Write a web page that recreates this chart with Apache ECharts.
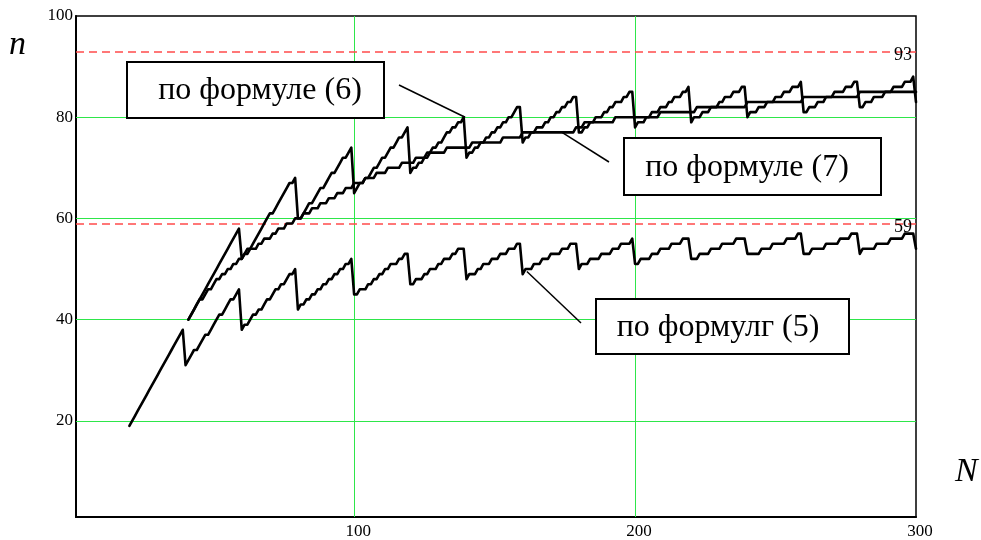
<!DOCTYPE html>
<html>
<head>
<meta charset="utf-8">
<script src="https://cdn.jsdelivr.net/npm/echarts@6/dist/echarts.min.js"></script>
<style>
  html, body { margin: 0; padding: 0; background: #fff; }
  #chart { width: 981px; height: 540px; }
</style>
</head>
<body>
<div id="chart"></div>
<script>
// n as a function of N for the three formulas (one value per integer N)
const startN5 = 20;
const n5 = [
  19,20,21,22,23,24,25,26,27,28,29,30,31,32,33,34,35,36,37,38,
  31,32,33,34,34,35,36,37,37,38,39,40,41,41,42,43,44,44,45,46,
  38,39,39,40,41,41,42,42,43,44,44,45,46,46,47,47,48,49,49,50,
  42,43,43,44,44,45,45,46,46,47,47,48,48,49,49,50,50,51,51,52,
  45,45,46,46,46,47,47,48,48,49,49,50,50,51,51,51,52,52,53,53,
  47,47,48,48,48,49,49,50,50,50,51,51,52,52,52,53,53,54,54,54,
  48,49,49,49,50,50,51,51,51,52,52,52,53,53,53,54,54,54,55,55,
  49,50,50,50,51,51,51,52,52,52,53,53,53,53,54,54,54,55,55,55,
  50,51,51,51,52,52,52,52,53,53,53,53,54,54,54,55,55,55,55,56,
  51,51,52,52,52,52,53,53,53,54,54,54,54,55,55,55,55,56,56,56,
  52,52,52,53,53,53,53,54,54,54,54,55,55,55,55,55,56,56,56,56,
  53,53,53,53,53,54,54,54,54,55,55,55,55,55,56,56,56,56,57,57,
  53,53,53,54,54,54,54,54,55,55,55,55,55,56,56,56,56,57,57,57,
  53,54,54,54,54,54,55,55,55,55,55,56,56,56,56,56,57,57,57,57,
  54
];

const startN6 = 41;
const n6 = [
  40,41,42,43,44,45,46,47,48,49,50,51,52,53,54,55,56,57,58,
  52,53,54,54,55,56,57,58,59,60,61,61,62,63,64,65,66,67,67,68,
  60,60,61,62,63,63,64,65,66,66,67,68,69,69,70,71,72,72,73,74,
  65,66,67,67,68,68,69,70,70,71,72,72,73,74,74,75,76,76,77,78,
  69,70,70,71,71,72,73,73,74,74,75,75,76,77,77,78,78,79,79,80,
  72,73,73,74,74,75,75,76,76,77,77,78,78,79,79,80,80,81,82,82,
  75,76,76,77,77,78,78,78,79,79,80,80,81,81,82,82,83,83,84,84,
  77,77,78,78,79,79,80,80,80,81,81,82,82,83,83,83,84,84,85,85,
  78,79,79,79,80,80,81,81,81,82,82,82,83,83,84,84,84,85,85,86,
  79,80,80,80,81,81,81,82,82,82,83,83,84,84,84,85,85,85,86,86,
  80,81,81,81,82,82,82,83,83,83,84,84,84,85,85,85,86,86,86,87,
  81,81,82,82,82,83,83,83,84,84,84,85,85,85,85,86,86,86,87,87,
  82,82,83,83,83,84,84,84,84,85,85,85,86,86,86,86,87,87,87,88,
  83
];

const startN7 = 41;
const n7 = [
  40,41,42,43,44,44,45,46,46,47,48,48,49,49,50,50,51,51,52,
  52,53,53,54,54,54,55,55,56,56,56,57,57,58,58,58,59,59,59,60,
  60,60,61,61,61,62,62,62,63,63,63,64,64,64,65,65,65,66,66,66,
  67,67,67,67,68,68,68,68,69,69,69,69,70,70,70,70,70,71,71,71,
  71,71,72,72,72,72,72,73,73,73,73,73,73,74,74,74,74,74,74,74,
  74,74,75,75,75,75,75,75,75,75,75,75,75,76,76,76,76,76,76,76,
  77,77,77,77,77,77,77,77,77,77,77,77,77,77,77,77,77,77,77,78,
  78,78,79,79,79,79,79,79,79,79,79,79,79,80,80,80,80,80,80,80,
  80,80,80,80,80,80,80,80,80,81,81,81,81,81,81,81,81,81,81,81,
  81,81,82,82,82,82,82,82,82,82,82,82,82,82,82,82,82,82,82,82,
  83,83,83,83,83,83,83,83,83,83,83,83,83,83,83,83,83,83,83,83,
  84,84,84,84,84,84,84,84,84,84,84,84,84,84,84,84,84,84,84,84,
  85,85,85,85,85,85,85,85,85,85,85,85,85,85,85,85,85,85,85,85,
  85
];

const xTicks = [100, 200, 300];
const yTicks = [20, 40, 60, 80, 100];
const gridX = [100, 200];
const gridY = [20, 40, 60, 80];
const limitValues = [93, 59];

// callout boxes: text, box [x, y, w, h] in px, text centre x, leader start (px), leader tip (data)
const callouts = [
  { text: 'по формуле (6)', box: [127, 62, 257, 56], cx: 260, from: [399, 85], tip: [139.5, 80] },
  { text: 'по формуле (7)', box: [624, 138, 257, 57], cx: 747, from: [609, 162], tip: [174, 77] },
  { text: 'по формулг (5)', box: [596, 299, 253, 55], cx: 718, from: [581, 323], tip: [161.5, 49.5] }
];

const FONT = '"Liberation Serif", "Times New Roman", serif';

function toPairs(start, vals) {
  return vals.map((v, i) => [start + i, v]);
}

const chart = echarts.init(document.getElementById('chart'), null, { renderer: 'canvas' });

const curveStyle = { color: '#000', width: 2.6, join: 'round', cap: 'round' };

chart.setOption({
  animation: false,
  backgroundColor: '#fff',
  grid: {
    left: 76, right: 65, top: 16, bottom: 23,
    show: true, borderColor: '#000', borderWidth: 1.5, backgroundColor: 'transparent'
  },
  xAxis: {
    type: 'value', min: 1, max: 300,
    axisLine: { show: true, onZero: false, lineStyle: { color: '#000', width: 2 } },
    axisTick: { show: false },
    splitLine: { show: false },
    axisLabel: {
      customValues: xTicks, color: '#000', fontFamily: FONT, fontSize: 17,
      margin: 6, padding: [0, 0, 0, 8]
    }
  },
  yAxis: {
    type: 'value', min: 1, max: 100,
    axisLine: { show: true, onZero: false, lineStyle: { color: '#000', width: 2 } },
    axisTick: { show: false },
    splitLine: { show: false },
    axisLabel: {
      customValues: yTicks, color: '#000', fontFamily: FONT, fontSize: 17,
      margin: 3, padding: [7, 0, 0, 0]
    }
  },
  series: [
    {
      type: 'line', name: 'grid', data: [], silent: true,
      markLine: {
        silent: true, symbol: 'none', animation: false,
        label: { show: false },
        lineStyle: { color: '#2ee64a', width: 1, type: 'solid' },
        data: gridX.map(v => ({ xAxis: v })).concat(gridY.map(v => ({ yAxis: v })))
      }
    },
    {
      type: 'line', name: 'limits', data: [], silent: true,
      markLine: {
        silent: true, symbol: 'none', animation: false,
        label: { show: false },
        lineStyle: { color: '#ff4b4b', width: 1.5, type: [8, 5] },
        data: limitValues.map(v => ({ yAxis: v }))
      }
    },
    { type: 'line', name: '(5)', data: toPairs(startN5, n5), showSymbol: false, lineStyle: curveStyle, z: 5 },
    { type: 'line', name: '(6)', data: toPairs(startN6, n6), showSymbol: false, lineStyle: curveStyle, z: 5 },
    { type: 'line', name: '(7)', data: toPairs(startN7, n7), showSymbol: false, lineStyle: curveStyle, z: 5 }
  ]
});

// overlay: axis names, limit values and callouts
const px = p => chart.convertToPixel({ gridIndex: 0 }, p);
const graphics = [
  { type: 'text', left: 9, top: 28, style: { text: 'n', font: 'italic 34px ' + FONT, fill: '#000' } },
  { type: 'text', left: 955, top: 455, style: { text: 'N', font: 'italic 34px ' + FONT, fill: '#000' } }
];
limitValues.forEach(v => {
  const p = px([300, v]);
  graphics.push({
    type: 'text', x: p[0] - 4, y: p[1] + 4,
    style: { text: String(v), font: '18px ' + FONT, fill: '#000', align: 'right', verticalAlign: 'middle' },
    z: 20
  });
});
callouts.forEach(c => {
  const t = px(c.tip);
  graphics.push({
    type: 'line', shape: { x1: c.from[0], y1: c.from[1], x2: t[0], y2: t[1] },
    style: { stroke: '#000', lineWidth: 1.5 }, z: 20
  });
  graphics.push({
    type: 'rect', shape: { x: c.box[0], y: c.box[1], width: c.box[2], height: c.box[3] },
    style: { fill: '#fff', stroke: '#000', lineWidth: 2 }, z: 21
  });
  graphics.push({
    type: 'text', x: c.cx, y: c.box[1] + c.box[3] / 2 + 1,
    style: { text: c.text, font: '32px ' + FONT, fill: '#000', align: 'center', verticalAlign: 'middle' },
    z: 22
  });
});
chart.setOption({ graphic: graphics });
</script>
</body>
</html>
